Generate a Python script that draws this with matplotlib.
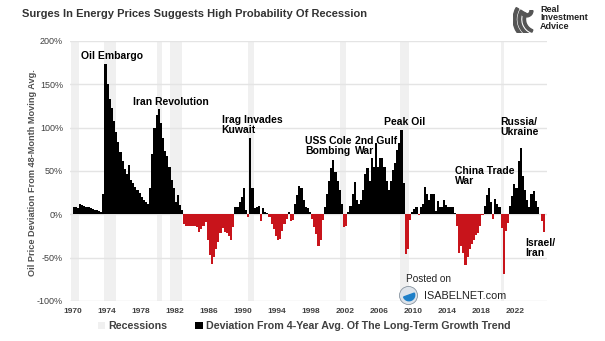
import numpy as np
import matplotlib
matplotlib.use("Agg")
import matplotlib.pyplot as plt
from matplotlib.patches import Patch, Wedge, Circle

plt.rcParams['font.family'] = ['Liberation Sans', 'DejaVu Sans']

# Quarterly oil price deviation from 48-month moving average (%), 1970 Q1 onward
dev_1970s = [9, 8, 7, 12, 11, 10, 9, 8, 7, 6, 5, 5, 4, 3, 23, 173,
             150, 133, 123, 108, 95, 84, 72, 62, 52, 47, 57, 40,
             36, 31, 28, 25, 20, 16, 14, 12, 30, 70, 100, 115]
dev_1980s = [121, 105, 88, 73, 67, 55, 40, 30, 14, 22, 11, 5,
             -11, -13, -13, -13, -13, -14, -15, -20, -17, -13, -9, -30,
             -47, -57, -49, -40, -32, -22, -16, -20, -22, -25, -30, -15,
             9, 9, 14, 20]
dev_1990s = [30, 5, -3, 88, 30, 7, 9, 10, -8, 7, 3, 1,
             -3, -11, -17, -25, -30, -28, -19, -11, -5, 3, -8, -6,
             12, 22, 33, 30, 16, 8, 7, 3, -5, -15, -23, -36,
             -30, -7, 8, 24]
dev_2000s = [39, 53, 63, 49, 39, 28, 12, -15, -13, 3, 10, 24,
             37, 16, 12, 16, 28, 47, 53, 39, 65, 55, 82, 55,
             65, 65, 55, 39, 28, 39, 51, 59, 74, 82, 97, 36,
             -46, -40, -7, 3]
dev_2010s = [6, 8, -1, 8, 12, 31, 24, 16, 23, 24, 4, 15,
             8, 8, 16, 11, 8, 8, 8, 2, -14, -45, -37, -45,
             -58, -49, -40, -34, -30, -24, -21, -14, -1, 10, 22, 30,
             14, -5, 18, 12]
dev_2020s = [8, -16, -69, -19, -10, 10, 21, 35, 30, 62, 77, 44,
             28, 16, 8, 24, 27, 15, 8, 0, -8, -20]

start_year = 1970.0
step = 0.25

# Recession periods (start, end) in fractional years
recessions = [(1969.8, 1970.8), (1973.7, 1975.1), (1979.95, 1980.53),
              (1981.44, 1982.81), (1990.6, 1991.3), (2001.35, 2002.05),
              (2008.45, 2009.55), (2020.25, 2020.6)]

tick_years = list(range(1970, 2023, 4))
y_ticks = [-100, -50, 0, 50, 100, 150, 200]

events = [
    ("Oil Embargo", 1970.98, 183),
    ("Iran Revolution", 1977.09, 130),
    ("Irag Invades\nKuwait", 1987.5, 103),
    ("USS Cole\nBombing", 1997.31, 79),
    ("2nd Gulf\nWar", 2003.19, 79),
    ("Peak Oil", 2006.6, 107),
    ("China Trade\nWar", 2014.95, 44),
    ("Russia/\nUkraine", 2020.24, 101),
    ("Israel/\nIran", 2023.18, -39),
]

values = np.array(dev_1970s + dev_1980s + dev_1990s + dev_2000s + dev_2010s + dev_2020s, dtype=float)
years = start_year + step * np.arange(len(values))

BLACK = "#000000"
RED = "#C8141B"
GRID = "#E4E4E4"
BAND = "#F0F0F0"
TXT = "#404040"

fig = plt.figure(figsize=(6.05, 3.41), dpi=100)
ax = fig.add_axes([70 / 605, 1 - 301 / 341, 477 / 605, 260 / 341])

for a, b in recessions:
    ax.axvspan(a, b, color=BAND, lw=0, zorder=0)

for yv in y_ticks:
    ax.axhline(yv, color=GRID, lw=1.0, zorder=1)

# step fill: extend the edges so each quarter is a flat block
xs = np.append(years, years[-1] + step)
vs = np.append(values, values[-1])
pos = np.where(vs > 0, vs, 0)
neg = np.where(vs < 0, vs, 0)
ax.fill_between(xs, 0, pos, step='post', color=BLACK, lw=0, zorder=3)
ax.fill_between(xs, 0, neg, step='post', color=RED, lw=0, zorder=3)

ax.set_xlim(1969.7, 2025.7)
ax.set_ylim(-100, 200)
ax.set_xticks(tick_years)
ax.set_xticklabels([str(y) for y in tick_years], fontsize=6, fontweight='bold', color=TXT)
ax.set_yticks(y_ticks)
ax.set_yticklabels([f"{v}%" for v in y_ticks], fontsize=6.5, color=TXT)
ax.tick_params(length=0, pad=5)
for s in ax.spines.values():
    s.set_visible(False)

for label, x, y in events:
    ax.text(x, y, label, fontsize=7.5, fontweight='bold', color='black',
            ha='left', va='center', linespacing=1.0, zorder=5)

fig.text(33 / 605, 1 - 173 / 341, "Oil Price Deviation From 48-Month Moving Avg.",
         rotation=90, ha='center', va='center', fontsize=6.6, fontweight='bold', color='#505050')

fig.text(22 / 605, 1 - 14 / 341, "Surges In Energy Prices Suggests High Probability Of Recession",
         ha='left', va='center', fontsize=8.0, fontweight='bold', color='#333333')

# Legend
handles = [Patch(facecolor=BAND, edgecolor='none', label='Recessions'),
           Patch(facecolor=BLACK, edgecolor='none',
                 label='Deviation From 4-Year Avg. Of The Long-Term Growth Trend')]
leg = fig.legend(handles=handles, loc='center', bbox_to_anchor=(304 / 605, 1 - 326 / 341),
                 ncol=2, frameon=False, handlelength=0.7, handleheight=0.7,
                 handletextpad=0.3, columnspacing=2.6,
                 prop={'size': 7.7, 'weight': 'bold'})
for t in leg.get_texts():
    t.set_color(TXT)

# Brand mark top right
fig.text(540 / 605, 1 - 18 / 341, "Real\nInvestment\nAdvice", ha='left', va='center',
         fontsize=6.5, fontweight='bold', color='#222222', linespacing=0.95)
lax = fig.add_axes([513 / 605, 1 - 33 / 341, 25 / 605, 29 / 341])
lax.set_xlim(0, 1)
lax.set_ylim(0, 1.17)
lax.set_aspect('equal')
lax.axis('off')
for r, w in [(0.95, 0.12), (0.75, 0.1), (0.55, 0.1)]:
    lax.add_patch(Wedge((0.95, 0.55), r, 150, 250, width=w, color='#555555'))
lax.add_patch(Wedge((0.55, 0.9), 0.25, 200, 360, width=0.12, color='#555555'))

# Watermark
fig.text(406 / 605, 1 - 279 / 341, "Posted on", ha='left', va='center', fontsize=7.2, color='#222222')
fig.text(424 / 605, 1 - 296 / 341, "ISABELNET.com", ha='left', va='center', fontsize=7.8, color='#222222')
gax = fig.add_axes([399 / 605, 1 - 305 / 341, 19 / 605, 19 / 341])
gax.set_xlim(-1, 1)
gax.set_ylim(-1, 1)
gax.set_aspect('equal')
gax.axis('off')
gax.add_patch(Circle((0, 0), 0.95, facecolor='#DDE3EA', edgecolor='#8894A0', lw=0.6))
gax.add_patch(Wedge((0.05, 0.05), 0.6, 200, 20, color='#1E7FC8'))

fig.savefig("out.png", dpi=100)
